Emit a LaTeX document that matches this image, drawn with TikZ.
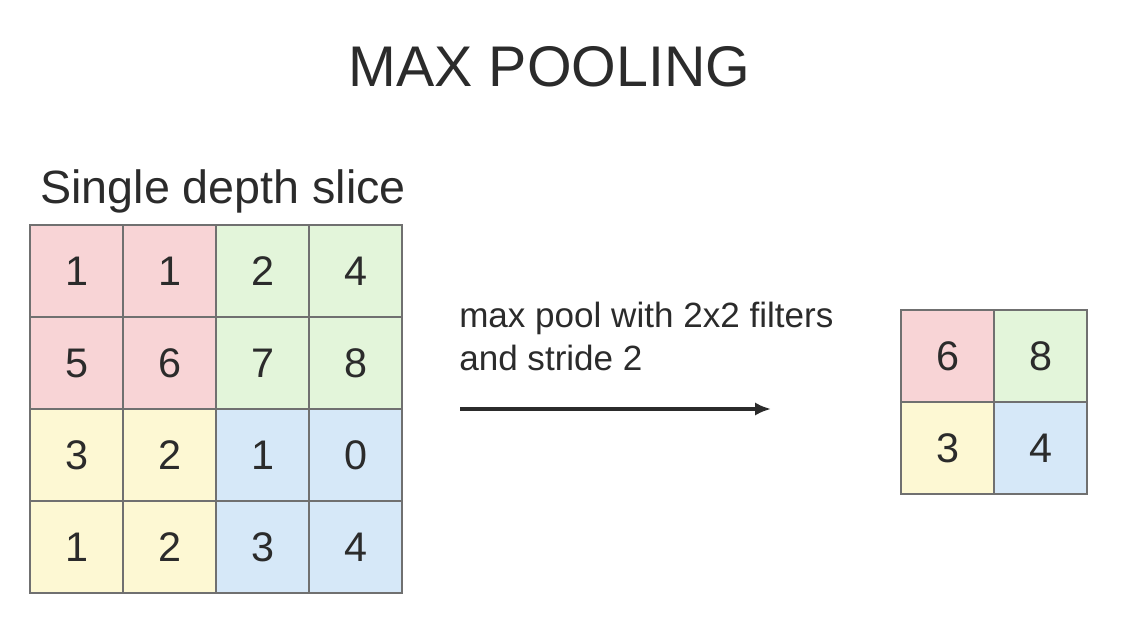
\documentclass[tikz,border=0pt]{standalone}
\usepackage{fontspec}
\setmainfont{Liberation Sans}
\usepackage{tikz}
\usetikzlibrary{arrows.meta,positioning}
\definecolor{ink}{HTML}{2B2B2B}
\definecolor{gridline}{HTML}{707070}
\definecolor{poolred}{HTML}{F8D4D6}
\definecolor{poolgreen}{HTML}{E3F5DA}
\definecolor{poolyellow}{HTML}{FDF8D3}
\definecolor{poolblue}{HTML}{D6E8F8}

\begin{document}
\begin{tikzpicture}[x=0.75pt,y=-0.75pt,text=ink,
cell/.style={draw=gridline,line width=0.8pt,minimum width=69.75pt,minimum height=69pt,inner sep=0pt,font=\fontsize{31}{31}\selectfont},
caption/.style={inner sep=0pt}]
\useasboundingbox (0,0) rectangle (1122,622);
\node[caption,anchor=base,font=\fontsize{43}{43}\selectfont] (title) at (549.5,86) {MAX POOLING};
\node[caption,anchor=base west,font=\fontsize{35}{35}\selectfont] (slice) at (40,203) {Single depth slice};
% input slice, 4x4
\foreach \col/\row/\val/\tint in {0/0/1/poolred,1/0/1/poolred,2/0/2/poolgreen,3/0/4/poolgreen,
0/1/5/poolred,1/1/6/poolred,2/1/7/poolgreen,3/1/8/poolgreen,
0/2/3/poolyellow,1/2/2/poolyellow,2/2/1/poolblue,3/2/0/poolblue,
0/3/1/poolyellow,1/3/2/poolyellow,2/3/3/poolblue,3/3/4/poolblue}
  \node[cell,fill=\tint] (in-\col-\row) at (76.5+93*\col,271+92*\row) {\val};
\node[caption,anchor=base west,align=left,font=\fontsize{26.3}{32}\selectfont] (rule) at (459,370) {max pool with 2x2 filters\\and stride 2};
\coordinate (arrowtail) at (460,409);
\coordinate (arrowhead) at (771,409);
\draw[-{Latex[length=12pt,width=10pt]},line width=2.8pt,ink] (arrowtail) -- (arrowhead);
% pooled output, 2x2
\foreach \col/\row/\val/\tint in {0/0/6/poolred,1/0/8/poolgreen,0/1/3/poolyellow,1/1/4/poolblue}
  \node[cell,fill=\tint] (out-\col-\row) at (947.5+93*\col,356+92*\row) {\val};
\end{tikzpicture}
\end{document}
